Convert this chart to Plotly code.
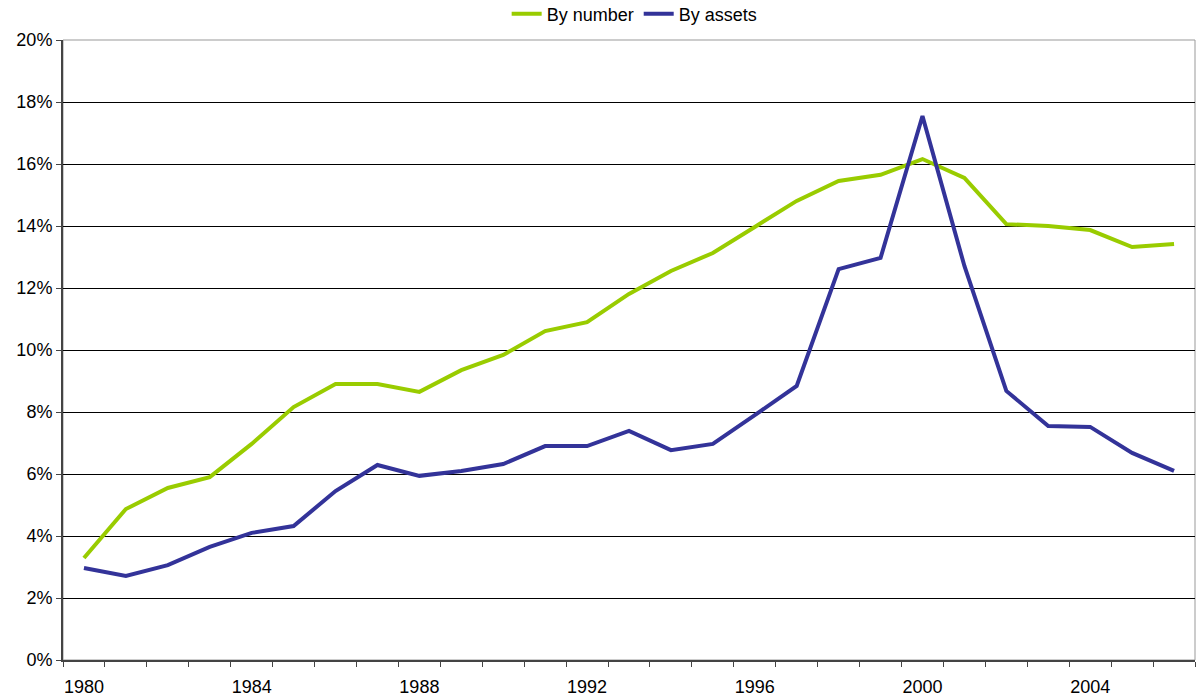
import plotly.graph_objects as go

years = list(range(1980, 2007))
by_number = [3.29, 4.87, 5.55, 5.90, 6.97, 8.16, 8.90, 8.90, 8.65, 9.35, 9.84, 10.61, 10.90,
             11.81, 12.55, 13.13, 13.97, 14.81, 15.45, 15.65, 16.16, 15.55, 14.06, 14.00,
             13.87, 13.32, 13.42]
by_assets = [2.97, 2.71, 3.06, 3.65, 4.10, 4.32, 5.45, 6.29, 5.94, 6.10, 6.32, 6.90, 6.90,
             7.39, 6.77, 6.97, 7.90, 8.84, 12.61, 12.97, 17.55, 12.71, 8.68, 7.55, 7.52,
             6.68, 6.10]
label_years = [1980, 1984, 1988, 1992, 1996, 2000, 2004]
y_ticks = [0, 2, 4, 6, 8, 10, 12, 14, 16, 18, 20]

fig = go.Figure()
fig.add_trace(go.Scatter(x=years, y=by_number, mode="lines", name="By number",
                         line=dict(color="#99CC00", width=4)))
fig.add_trace(go.Scatter(x=years, y=by_assets, mode="lines", name="By assets",
                         line=dict(color="#333399", width=4)))

fig.add_shape(type="rect", xref="paper", yref="paper", x0=0, x1=1, y0=0, y1=1,
              line=dict(color="#999999", width=1), layer="below")

fig.update_layout(
    width=1196, height=698,
    margin=dict(l=63, r=1, t=40, b=38, autoexpand=False),
    paper_bgcolor="white", plot_bgcolor="white",
    font=dict(family="Liberation Sans, Arial, sans-serif", size=18, color="black"),
    showlegend=True,
    legend=dict(orientation="h", x=0.505, xanchor="center", yref="paper",
                y=1.042, yanchor="middle", font=dict(size=18), itemwidth=30,
                bgcolor="rgba(0,0,0,0)"),
    xaxis=dict(range=[1979.5, 2006.5], tickmode="array", tickvals=label_years,
               ticktext=[str(v) for v in label_years], ticks="", showgrid=False,
               zeroline=False, showline=True, linecolor="#444444", linewidth=2,
               ticklabelstandoff=9, automargin=False,
               minor=dict(tick0=1979.5, dtick=1, ticks="outside", ticklen=5,
                          tickcolor="#444444", tickwidth=1, showgrid=False)),
    yaxis=dict(range=[0, 20], tickmode="array", tickvals=y_ticks,
               ticktext=[f"{v}%" for v in y_ticks], ticks="outside", ticklen=5,
               tickcolor="#444444", showgrid=True, gridcolor="black", gridwidth=1,
               zeroline=False, showline=True, linecolor="#444444", linewidth=2,
               automargin=False),
)

fig.write_html("out.html", config={"displayModeBar": False},
               post_script="document.body.style.margin='0px';document.body.style.overflow='hidden';")
